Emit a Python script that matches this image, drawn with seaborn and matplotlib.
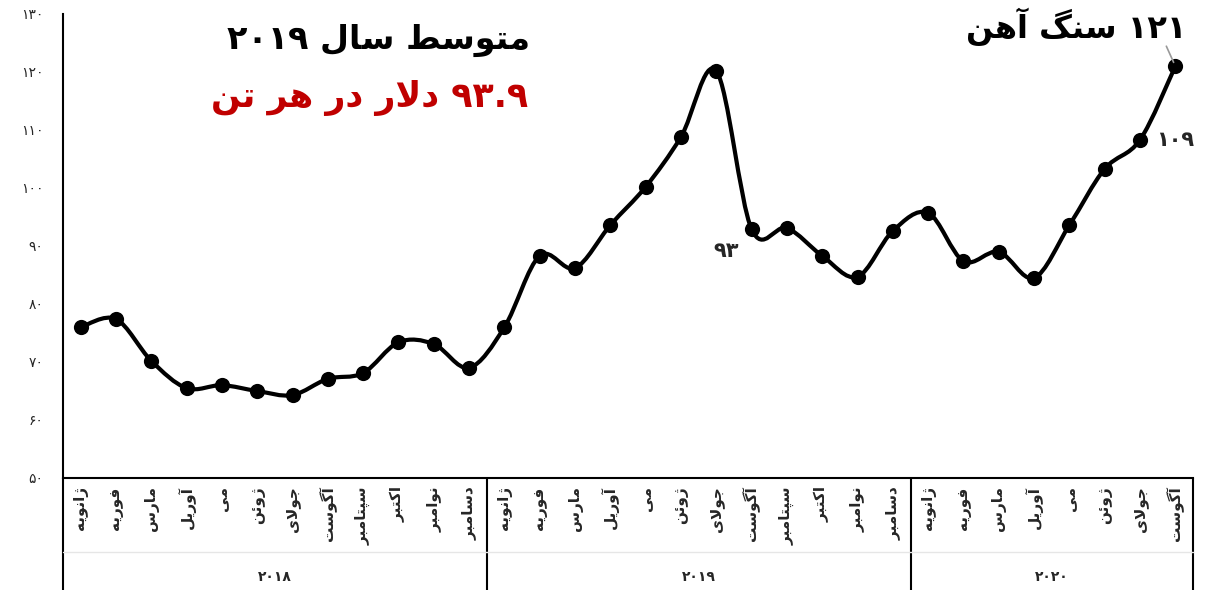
import re
import numpy as np
import matplotlib
matplotlib.use("Agg")
import matplotlib.pyplot as plt
import matplotlib.transforms as mtransforms
from matplotlib.path import Path
from matplotlib.patches import PathPatch
import seaborn as sns

# ---------------- data ----------------
months = ["ژانویه", "فوریه", "مارس", "آوریل", "می", "ژوئن", "جولای",
          "آگوست", "سپتامبر", "اکتبر", "نوامبر", "دسامبر"]
years = ["2018", "2019", "2020"]
months_per_year = [12, 12, 8]
month_labels = months + months + months[:8]
prices = [76.0, 77.4, 70.2, 65.5, 66.0, 65.0, 64.3, 67.1, 68.1, 73.4, 73.1, 69.0,
          76.0, 88.3, 86.2, 93.6, 100.2, 108.8, 120.2, 92.9, 93.1, 88.3, 84.7, 92.6,
          95.7, 87.4, 89.0, 84.5, 93.6, 103.3, 108.3, 121.0]
yticks = [50, 60, 70, 80, 90, 100, 110, 120, 130]
title_line1 = "متوسط سال ۲۰۱۹"
title_line2 = "۹۳.۹ دلار در هر تن"
label_last = "۱۲۱ سنگ آهن"
label_aug19 = "۹۳"
label_jul20 = "۱۰۹"

# ---------------- simple Persian shaping (matplotlib has no shaping/bidi) ----
FORMS = {
    'ا': ('\uFE8D', '\uFE8E', None, None),
    'آ': ('\uFE81', '\uFE82', None, None),
    'ئ': ('\uFE89', '\uFE8A', '\uFE8B', '\uFE8C'),
    'ب': ('\uFE8F', '\uFE90', '\uFE91', '\uFE92'),
    'پ': ('\uFB56', '\uFB57', '\uFB58', '\uFB59'),
    'ت': ('\uFE95', '\uFE96', '\uFE97', '\uFE98'),
    'ج': ('\uFE9D', '\uFE9E', '\uFE9F', '\uFEA0'),
    'د': ('\uFEA9', '\uFEAA', None, None),
    'ر': ('\uFEAD', '\uFEAE', None, None),
    'ز': ('\uFEAF', '\uFEB0', None, None),
    'ژ': ('\uFB8A', '\uFB8B', None, None),
    'س': ('\uFEB1', '\uFEB2', '\uFEB3', '\uFEB4'),
    'ط': ('\uFEC1', '\uFEC2', '\uFEC3', '\uFEC4'),
    'ف': ('\uFED1', '\uFED2', '\uFED3', '\uFED4'),
    'ک': ('\uFB8E', '\uFB8F', '\uFB90', '\uFB91'),
    'گ': ('\uFB92', '\uFB93', '\uFB94', '\uFB95'),
    'ل': ('\uFEDD', '\uFEDE', '\uFEDF', '\uFEE0'),
    'م': ('\uFEE1', '\uFEE2', '\uFEE3', '\uFEE4'),
    'ن': ('\uFEE5', '\uFEE6', '\uFEE7', '\uFEE8'),
    'ه': ('\uFEE9', '\uFEEA', '\uFEEB', '\uFEEC'),
    'و': ('\uFEED', '\uFEEE', None, None),
    'ی': ('\uFBFC', '\uFBFD', '\uFBFE', '\uFBFF'),
}
LAM_ALEF = {'ا': ('\uFEFB', '\uFEFC'), 'آ': ('\uFEF5', '\uFEF6')}


def _joins_left(ch):
    return ch in FORMS and FORMS[ch][2] is not None


def shape(s):
    out, i, n = [], 0, len(s)
    while i < n:
        c = s[i]
        if c not in FORMS:
            out.append(c)
            i += 1
            continue
        pj = i > 0 and _joins_left(s[i - 1])
        if c == 'ل' and i + 1 < n and s[i + 1] in LAM_ALEF:
            iso, fin = LAM_ALEF[s[i + 1]]
            out.append(fin if pj else iso)
            i += 2
            continue
        nj = i + 1 < n and s[i + 1] in FORMS and FORMS[c][2] is not None
        iso, fin, ini, med = FORMS[c]
        if pj and nj:
            out.append(med)
        elif pj:
            out.append(fin)
        elif nj:
            out.append(ini)
        else:
            out.append(iso)
        i += 1
    return ''.join(out)


def fa(s):
    s = shape(s)[::-1]
    return re.sub(r'[0-9\u06F0-\u06F9.]+', lambda m: m.group(0)[::-1], s)


FA_DIGITS = str.maketrans('0123456789', '۰۱۲۳۴۵۶۷۸۹')


def fa_num(v):
    return str(v).translate(FA_DIGITS)


# ---------------- figure ----------------
sns.set_style("white")
plt.rcParams['font.family'] = ['DejaVu Sans']

W, H = 1221, 590
fig = plt.figure(figsize=(W / 100, H / 100), dpi=100)
ax = fig.add_axes([63 / W, 112 / H, (1193 - 63) / W, 464 / H])

x = np.arange(len(prices))
pts = np.column_stack([x, prices]).astype(float)

# smooth line (Catmull-Rom Bezier through the data points)
verts = [pts[0]]
codes = [Path.MOVETO]
n = len(pts)
for i in range(n - 1):
    p0 = pts[max(i - 1, 0)]
    p1 = pts[i]
    p2 = pts[i + 1]
    p3 = pts[min(i + 2, n - 1)]
    c1 = p1 + (p2 - p0) / 6.0
    c2 = p2 - (p3 - p1) / 6.0
    verts += [c1, c2, p2]
    codes += [Path.CURVE4] * 3
ax.add_patch(PathPatch(Path(verts, codes), facecolor='none', edgecolor='black',
                       lw=3.0, capstyle='round', joinstyle='round', zorder=2))

sns.scatterplot(x=x, y=prices, ax=ax, color='black', s=120, edgecolor='black',
                linewidth=0, zorder=3, legend=False)

ax.set_xlim(-0.5, len(prices) - 0.5)
ax.set_ylim(50, 130)

ax.set_yticks(yticks)
ax.set_yticklabels([fa_num(v) for v in yticks], fontsize=10)
ax.tick_params(axis='y', length=0, pad=14)

ax.set_xticks(x)
ax.set_xticklabels([fa(m) for m in month_labels], rotation=90, fontsize=11,
                   fontweight='bold')
ax.tick_params(axis='x', length=0, pad=6)
ax.set_xlabel('')
ax.set_ylabel('')

for side in ['top', 'right']:
    ax.spines[side].set_visible(False)
for side in ['left', 'bottom']:
    ax.spines[side].set_color('black')
    ax.spines[side].set_linewidth(1.5)

# group box below the axis
trans = mtransforms.blended_transform_factory(ax.transData, ax.transAxes)
box_bottom = -(H - 478) / 464
bounds = [-0.5]
for k in months_per_year:
    bounds.append(bounds[-1] + k)
for b in bounds:
    ax.plot([b, b], [0, box_bottom], transform=trans, color='black', lw=1.5,
            clip_on=False, solid_capstyle='butt')
ax.plot([-0.5, bounds[-1]], [-(552 - 478) / 464] * 2, transform=trans,
        color='#e6e6e6', lw=1, clip_on=False)
for j, yr in enumerate(years):
    cx = (bounds[j] + bounds[j + 1]) / 2
    ax.text(cx, -(577 - 478) / 464, fa_num(yr), transform=trans, ha='center',
            va='center', fontsize=10, fontweight='bold')

# titles
fig.text(530 / W, 1 - 40 / H, fa(title_line1), ha='right', va='center',
         fontsize=24, fontweight='bold', color='black')
fig.text(528 / W, 1 - 98 / H, fa(title_line2), ha='right', va='center',
         fontsize=25, fontweight='bold', color='#c00000')

# annotations
ax.annotate(fa(label_aug19), xy=(19, prices[19]), xytext=(-25, -22),
            textcoords='offset pixels', ha='center', va='center',
            fontsize=15, fontweight='bold')
ax.annotate(fa(label_jul20), xy=(30, prices[30]), xytext=(16, 0),
            textcoords='offset pixels', ha='left', va='center',
            fontsize=15, fontweight='bold')
ax.annotate('', xy=(31, prices[31]), xytext=(-9, 20), textcoords='offset pixels',
            arrowprops=dict(arrowstyle='-', color='#999999', lw=1.2,
                            shrinkA=0, shrinkB=3))
fig.text(1187 / W, 1 - 27 / H, fa(label_last), ha='right', va='center',
         fontsize=23, fontweight='bold', color='black')

fig.savefig('out.png', dpi=100)
